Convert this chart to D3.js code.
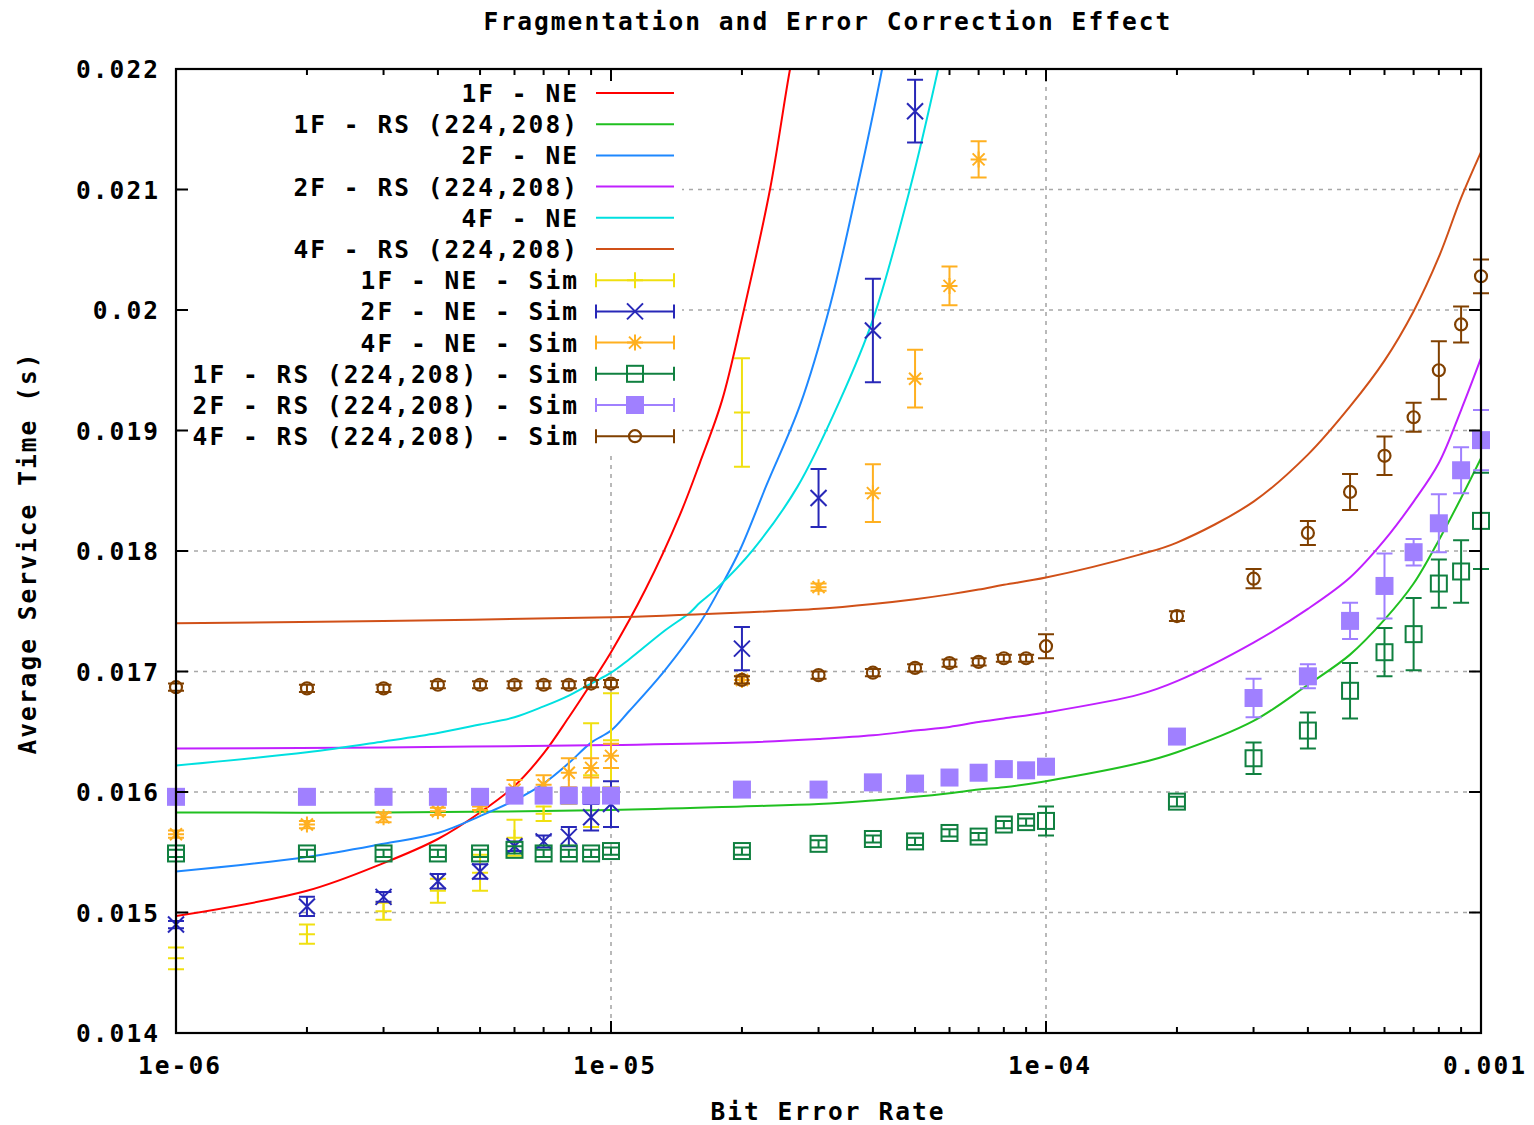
<!DOCTYPE html>
<html><head><meta charset="utf-8">
<script src="https://cdn.jsdelivr.net/npm/d3@7"></script>
<style>
body{margin:0;background:#fff;}
svg text{font-family:"DejaVu Sans Mono",monospace;font-weight:bold;font-size:24.5px;letter-spacing:2.05px;fill:#000;}
</style></head><body><svg id="c" width="1534" height="1125"></svg>
<script>
// ---------- data ----------
const simX = [1e-6,2e-6,3e-6,4e-6,5e-6,6e-6,7e-6,8e-6,9e-6,1e-5,2e-5,3e-5,4e-5,5e-5,6e-5,7e-5,8e-5,9e-5,1e-4,2e-4,3e-4,4e-4,5e-4,6e-4,7e-4,8e-4,9e-4,1e-3];

// analytical curves
const ne1X = [1e-6,2e-6,3e-6,4e-6,5e-6,6e-6,7e-6,8e-6,9e-6,1e-5,1.2e-5,1.44e-5,1.6e-5,1.8e-5,2e-5,2.32e-5,2.58e-5,2.72e-5];
const ne1Y = [0.01497,0.01518,0.01541,0.01561,0.01583,0.01605,0.01632,0.01662,0.0169,0.01716,0.01768,0.0183,0.01873,0.01925,0.01993,0.021,0.022,0.0224];
const ne2X = [1e-6,2e-6,3e-6,4e-6,5e-6,6e-6,7e-6,8e-6,9e-6,1e-5,1.1e-5,1.33e-5,1.6e-5,1.78e-5,1.98e-5,2.28e-5,2.72e-5,3.19e-5,3.68e-5,4.2e-5,4.5e-5];
const ne2Y = [0.01534,0.01546,0.01557,0.01566,0.0158,0.01593,0.01607,0.01624,0.01641,0.01651,0.01667,0.01701,0.0174,0.01769,0.01801,0.01855,0.01921,0.02004,0.02101,0.022,0.0226];
const ne4X = [1e-6,2e-6,3e-6,4e-6,5e-6,6e-6,7e-6,8e-6,9e-6,1e-5,1.1e-5,1.33e-5,1.52e-5,1.6e-5,1.75e-5,2.12e-5,2.68e-5,3.36e-5,4.0e-5,4.87e-5,5.65e-5,6e-5];
const ne4Y = [0.01622,0.01633,0.01642,0.01649,0.01656,0.01662,0.01671,0.0168,0.0169,0.01699,0.0171,0.01734,0.01749,0.01757,0.01769,0.01801,0.01853,0.01925,0.01992,0.02101,0.022,0.02245];
const rsX  = [1e-6,3e-6,1e-5,2e-5,3e-5,4e-5,5e-5,6e-5,7e-5,8e-5,1e-4,1.64e-4,2e-4,3e-4,4e-4,5e-4,6e-4,7e-4,8e-4,9e-4,1e-3];
const rs1Y = [0.01583,0.01583,0.01585,0.01588,0.0159,0.01593,0.01596,0.01599,0.01602,0.01604,0.01609,0.01624,0.01633,0.01659,0.01689,0.01714,0.01743,0.01773,0.01809,0.01844,0.01877];
const rs2Y = [0.01636,0.01637,0.01639,0.01641,0.01644,0.01647,0.01651,0.01654,0.01658,0.01661,0.01666,0.01681,0.01692,0.01724,0.01752,0.01778,0.01809,0.01841,0.01873,0.01917,0.0196];
const rs4Y = [0.0174,0.01742,0.01745,0.01749,0.01752,0.01756,0.0176,0.01764,0.01768,0.01772,0.01778,0.01797,0.01807,0.01841,0.0188,0.0192,0.01958,0.01999,0.02044,0.02093,0.02131];

// simulation values (mean, error)
const sim1NE  = [0.01462,0.01482,0.01501,0.01518,0.01533,0.01562,0.01582,0.01596,0.01614,0.01643,0.01915];
const sim1NEe = [0.00009,0.00008,0.00007,0.0001,0.00015,0.00015,0.00006,0.00006,0.00043,0.00039,0.00045];
const sim2NE  = [0.0149,0.01505,0.01513,0.01526,0.01534,0.01555,0.01559,0.01563,0.01579,0.0159,0.01719,0.01844,0.01983,0.02165];
const sim2NEe = [0.00003,0.00008,0.00004,0.00006,0.00006,0.00004,0.00005,0.00008,0.00011,0.00019,0.00018,0.00024,0.00043,0.00026];
const sim4NE  = [0.01565,0.01573,0.01579,0.01584,0.01588,0.01602,0.01606,0.01616,0.0162,0.0163,0.01693,0.0177,0.01848,0.01943,0.0202,0.02125];
const sim4NEe = [0.00003,0.00003,0.00004,0.00003,0.00003,0.00008,0.00008,0.00012,0.00008,0.0001,0.00003,0.00003,0.00024,0.00024,0.00016,0.00015];
const sim1RS  = [0.01549,0.01549,0.01549,0.01549,0.01549,0.01552,0.01549,0.01549,0.01549,0.01551,0.01551,0.01557,0.01561,0.01559,0.01566,0.01563,0.01573,0.01575,0.01576,0.01592,0.01628,0.01651,0.01684,0.01716,0.01731,0.01773,0.01783,0.01825];
const sim1RSe = [0.00003,0.00003,0.00003,0.00003,0.00003,0.00003,0.00003,0.00003,0.00003,0.00003,0.00003,0.00003,0.00003,0.00003,0.00003,0.00003,0.00003,0.00003,0.00012,0.00004,0.00013,0.00015,0.00023,0.0002,0.0003,0.0002,0.00026,0.0004];
const sim2RS  = [0.01596,0.01596,0.01596,0.01596,0.01596,0.01597,0.01597,0.01597,0.01597,0.01597,0.01602,0.01602,0.01608,0.01607,0.01612,0.01616,0.01619,0.01618,0.01621,0.01646,0.01678,0.01696,0.01742,0.01771,0.01799,0.01823,0.01867,0.01892];
const sim2RSe = [0.00003,0.00003,0.00003,0.00003,0.00003,0.00003,0.00003,0.00003,0.00003,0.00003,0.00003,0.00003,0.00003,0.00003,0.00003,0.00003,0.00003,0.00003,0.00004,0.00005,0.00016,0.0001,0.00015,0.00027,0.00011,0.00024,0.00019,0.00025];
const sim4RS  = [0.01687,0.01686,0.01686,0.01689,0.01689,0.01689,0.01689,0.01689,0.0169,0.0169,0.01693,0.01697,0.01699,0.01703,0.01707,0.01708,0.01711,0.01711,0.01721,0.01746,0.01777,0.01815,0.01849,0.01879,0.01911,0.0195,0.01988,0.02028];
const sim4RSe = [0.00003,0.00003,0.00003,0.00003,0.00003,0.00003,0.00003,0.00003,0.00003,0.00003,0.00003,0.00003,0.00003,0.00003,0.00003,0.00003,0.00003,0.00003,0.0001,0.00004,0.00008,0.0001,0.00015,0.00016,0.00012,0.00024,0.00015,0.00014];

const yTicks = [0.014,0.015,0.016,0.017,0.018,0.019,0.02,0.021,0.022];
const yTickLabels = ["0.014","0.015","0.016","0.017","0.018","0.019","0.02","0.021","0.022"];
const xTicks = [1e-6,1e-5,1e-4,1e-3];
const xTickLabels = ["1e-06","1e-05","1e-04","0.001"];

const lineSeries = [
  {name:"1F - NE", xs:ne1X, ys:ne1Y, color:"#ff0000"},
  {name:"1F - RS (224,208)", xs:rsX, ys:rs1Y, color:"#20c020"},
  {name:"2F - NE", xs:ne2X, ys:ne2Y, color:"#1e88ff"},
  {name:"2F - RS (224,208)", xs:rsX, ys:rs2Y, color:"#c020ff"},
  {name:"4F - NE", xs:ne4X, ys:ne4Y, color:"#00e0e0"},
  {name:"4F - RS (224,208)", xs:rsX, ys:rs4Y, color:"#d05018"}
];
const simSeries = [
  {name:"1F - NE - Sim", ys:sim1NE, es:sim1NEe, color:"#f0e010", marker:"plus"},
  {name:"2F - NE - Sim", ys:sim2NE, es:sim2NEe, color:"#2828b8", marker:"cross"},
  {name:"4F - NE - Sim", ys:sim4NE, es:sim4NEe, color:"#ffb020", marker:"star"},
  {name:"1F - RS (224,208) - Sim", ys:sim1RS, es:sim1RSe, color:"#108040", marker:"osquare"},
  {name:"2F - RS (224,208) - Sim", ys:sim2RS, es:sim2RSe, color:"#a080ff", marker:"fsquare"},
  {name:"4F - RS (224,208) - Sim", ys:sim4RS, es:sim4RSe, color:"#804000", marker:"ocircle"}
];

// ---------- chart ----------
const svg = d3.select("#c");
const L=176, R=1481, T=69, B=1033;
const x = d3.scaleLog().domain([1e-6,1e-3]).range([L,R]);
const y = d3.scaleLinear().domain([0.014,0.022]).range([B,T]);

svg.append("defs").append("clipPath").attr("id","clip")
  .append("rect").attr("x",L).attr("y",T).attr("width",R-L).attr("height",B-T);

// grid
const grid = svg.append("g").attr("stroke","#a8a8a8").attr("stroke-width",1.6).attr("stroke-dasharray","4,5");
yTicks.slice(1,-1).forEach(v=>grid.append("line").attr("x1",L).attr("x2",R).attr("y1",y(v)).attr("y2",y(v)));
xTicks.slice(1,-1).forEach(v=>grid.append("line").attr("x1",x(v)).attr("x2",x(v)).attr("y1",T).attr("y2",B));

// legend background
svg.append("rect").attr("x",182).attr("y",74).attr("width",500).attr("height",378).attr("fill","#fff");

// curves
const plot = svg.append("g").attr("clip-path","url(#clip)");
lineSeries.forEach(s=>{
  const pts = s.xs.map((d,i)=>[x(d),y(s.ys[i])]);
  plot.append("path").attr("d",d3.line().curve(d3.curveCatmullRom.alpha(0.5))(pts))
    .attr("fill","none").attr("stroke",s.color).attr("stroke-width",2);
});

function marker(g,type,cx,cy,color){
  const s=8;
  if(type==="plus"){
    g.append("path").attr("d",`M${cx-s},${cy}H${cx+s}M${cx},${cy-s}V${cy+s}`).attr("stroke",color).attr("stroke-width",2).attr("fill","none");
  } else if(type==="cross"){
    g.append("path").attr("d",`M${cx-s},${cy-s}L${cx+s},${cy+s}M${cx-s},${cy+s}L${cx+s},${cy-s}`).attr("stroke",color).attr("stroke-width",2).attr("fill","none");
  } else if(type==="star"){
    const d=6;
    g.append("path").attr("d",`M${cx-s},${cy}H${cx+s}M${cx},${cy-s}V${cy+s}M${cx-d},${cy-d}L${cx+d},${cy+d}M${cx-d},${cy+d}L${cx+d},${cy-d}`).attr("stroke",color).attr("stroke-width",2).attr("fill","none");
  } else if(type==="osquare"){
    g.append("rect").attr("x",cx-8).attr("y",cy-8).attr("width",16).attr("height",16).attr("fill","none").attr("stroke",color).attr("stroke-width",2);
  } else if(type==="fsquare"){
    g.append("rect").attr("x",cx-9).attr("y",cy-9).attr("width",18).attr("height",18).attr("fill",color);
  } else if(type==="ocircle"){
    g.append("circle").attr("cx",cx).attr("cy",cy).attr("r",6).attr("fill","none").attr("stroke",color).attr("stroke-width",2.2);
  }
}

// simulation points with error bars (not clipped, like the original)
const pts = svg.append("g");
simSeries.forEach(s=>{
  const g = pts.append("g");
  s.ys.forEach((v,i)=>{
    const cx = x(simX[i]), y1=y(v-s.es[i]), y2=y(v+s.es[i]);
    g.append("path").attr("d",`M${cx},${y1}V${y2}M${cx-8},${y1}H${cx+8}M${cx-8},${y2}H${cx+8}`)
      .attr("stroke",s.color).attr("stroke-width",2).attr("fill","none");
    marker(g,s.marker,cx,y(v),s.color);
  });
});

// frame and ticks
const ax = svg.append("g").attr("stroke","#000");
ax.append("rect").attr("x",L).attr("y",T).attr("width",R-L).attr("height",B-T).attr("fill","none").attr("stroke-width",2.2);
yTicks.forEach(v=>{
  ax.append("line").attr("x1",L).attr("x2",L+12).attr("y1",y(v)).attr("y2",y(v)).attr("stroke-width",2);
  ax.append("line").attr("x1",R).attr("x2",R-12).attr("y1",y(v)).attr("y2",y(v)).attr("stroke-width",2);
});
const minor=[];
[1e-6,1e-5,1e-4].forEach(d=>{for(let k=2;k<=9;k++)minor.push(d*k);});
xTicks.forEach(v=>{
  ax.append("line").attr("x1",x(v)).attr("x2",x(v)).attr("y1",B).attr("y2",B-12).attr("stroke-width",2);
  ax.append("line").attr("x1",x(v)).attr("x2",x(v)).attr("y1",T).attr("y2",T+12).attr("stroke-width",2);
});
minor.forEach(v=>{
  ax.append("line").attr("x1",x(v)).attr("x2",x(v)).attr("y1",B).attr("y2",B-6).attr("stroke-width",2);
  ax.append("line").attr("x1",x(v)).attr("x2",x(v)).attr("y1",T).attr("y2",T+6).attr("stroke-width",2);
});

// tick labels
yTicks.forEach((v,i)=>svg.append("text").attr("x",160).attr("y",y(v)+9).attr("text-anchor","end").text(yTickLabels[i]));
xTicks.forEach((v,i)=>svg.append("text").attr("x",x(v)+4).attr("y",1074).attr("text-anchor","middle").text(xTickLabels[i]));

// titles
svg.append("text").attr("x",828).attr("y",30).attr("text-anchor","middle").text("Fragmentation and Error Correction Effect");
svg.append("text").attr("x",828).attr("y",1120).attr("text-anchor","middle").text("Bit Error Rate");
svg.append("text").attr("transform","translate(36,553) rotate(-90)").attr("text-anchor","middle").text("Average Service Time (s)");

// legend
const lg = svg.append("g");
const legendItems = lineSeries.map(s=>({name:s.name,color:s.color,marker:null})).concat(simSeries.map(s=>({name:s.name,color:s.color,marker:s.marker})));
legendItems.forEach((it,i)=>{
  const cy = 93 + i*31.2;
  lg.append("text").attr("x",579).attr("y",cy+9).attr("text-anchor","end").text(it.name);
  lg.append("line").attr("x1",596).attr("x2",674).attr("y1",cy).attr("y2",cy).attr("stroke",it.color).attr("stroke-width",2);
  if(it.marker){
    lg.append("path").attr("d",`M596,${cy-7}V${cy+7}M674,${cy-7}V${cy+7}`).attr("stroke",it.color).attr("stroke-width",2);
    marker(lg,it.marker,635,cy,it.color);
  }
});
</script></body></html>
